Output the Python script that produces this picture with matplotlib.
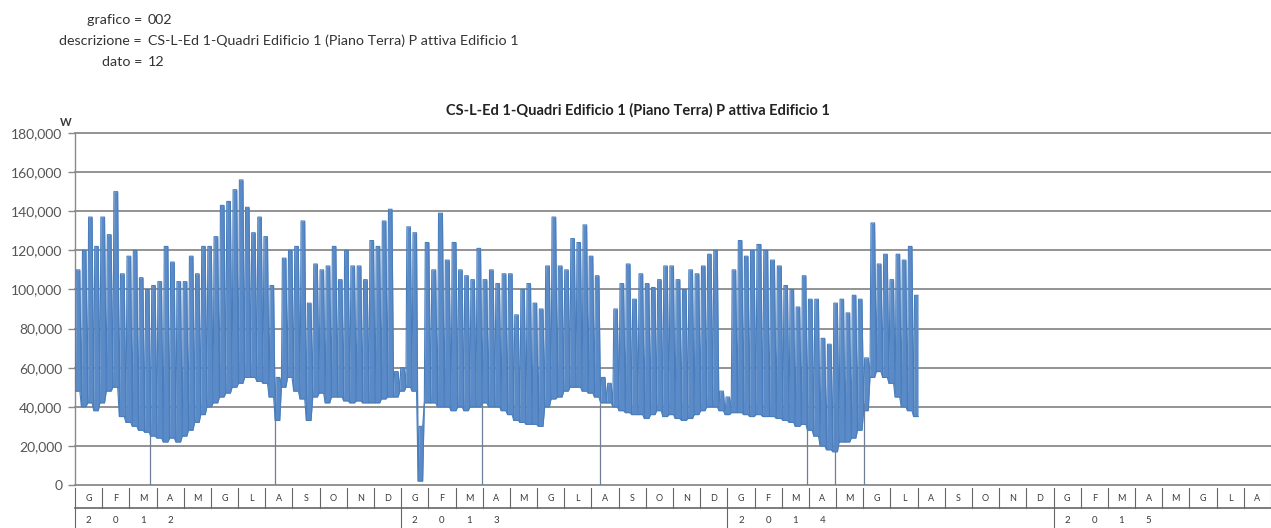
import numpy as np
import pandas as pd
import matplotlib
matplotlib.use('Agg')
import matplotlib.pyplot as plt
import matplotlib.transforms as mtransforms

plt.rcParams['font.family'] = ['Lato', 'DejaVu Sans']

# weekly peak / base power (kW), weeks from 2012-01-01
week_peak = [110, 120, 137, 122, 137, 128, 150, 108, 117, 120, 106, 100, 102, 104, 122, 114,
             104, 104, 117, 108, 122, 122, 127, 143, 145, 151, 156, 142, 129, 137, 127, 102,
             55, 116, 120, 122, 135, 93, 113, 110, 112, 122, 105, 120, 112, 112, 105, 125,
             122, 135, 141, 58, 60, 132, 129, 30, 124, 110, 139, 115, 124, 110, 107, 105,
             121, 105, 110, 103, 108, 108, 87, 100, 103, 93, 90, 112, 137, 112, 110, 126,
             124, 133, 117, 107, 55, 52, 90, 103, 113, 95, 108, 103, 101, 105, 112, 112,
             105, 100, 110, 108, 112, 118, 120, 48, 45, 110, 125, 117, 120, 123, 120, 115,
             112, 102, 100, 91, 107, 95, 95, 75, 72, 93, 95, 88, 97, 95, 65, 134,
             113, 118, 105, 118, 115, 122, 97]
week_base = [48, 40, 42, 38, 42, 48, 50, 35, 32, 30, 28, 27, 25, 24, 22, 24,
             22, 25, 28, 32, 36, 40, 42, 45, 47, 50, 52, 55, 55, 53, 52, 45,
             33, 50, 55, 48, 44, 33, 45, 47, 42, 45, 45, 43, 42, 43, 42, 42,
             42, 44, 45, 45, 48, 50, 48, 2, 42, 42, 40, 40, 38, 40, 38, 40,
             40, 42, 40, 40, 38, 36, 33, 32, 31, 31, 30, 40, 44, 45, 48, 50,
             50, 48, 47, 45, 42, 42, 40, 38, 37, 36, 36, 34, 36, 38, 35, 36,
             34, 33, 34, 36, 38, 40, 40, 38, 36, 37, 37, 36, 35, 36, 35, 35,
             34, 33, 32, 30, 31, 28, 25, 20, 18, 17, 22, 22, 24, 28, 38, 55,
             58, 55, 52, 45, 40, 38, 35]
# single zero readings (thin drops to 0)
zero_dips = ['2012-03-25', '2012-08-12', '2013-03-31', '2013-08-11',
             '2014-03-30', '2014-04-30', '2014-06-02']

months = ['G', 'F', 'M', 'A', 'M', 'G', 'L', 'A', 'S', 'O', 'N', 'D']
years = ['2012', '2013', '2014', '2015']
n_months = 44
yticks = list(range(0, 180001, 20000))

title = 'CS-L-Ed 1-Quadri Edificio 1 (Piano Terra) P attiva Edificio 1'
header = [('grafico', '002'), ('descrizione', title), ('dato', '12')]

blue = '#4a7ebb'
grid_c = '#8a8a8a'
txt_c = '#3a3a3a'


def month_pos(ts):
    ts = pd.DatetimeIndex(ts)
    return np.asarray((ts.year - 2012) * 12 + (ts.month - 1)
                      + (ts.day - 1 + ts.hour / 24) / ts.days_in_month)


start = pd.Timestamp('2012-01-01')
n = len(week_peak)
t, top, bot = [], [], []
for k in range(n):
    w0 = start + pd.Timedelta(days=7 * k)
    for d, v in [(0.4, week_base[k]), (1.5, week_peak[k]), (5.5, week_peak[k])]:
        t.append(w0 + pd.Timedelta(days=d))
        top.append(v * 1000)
        bot.append(week_base[k] * 1000)
x = month_pos(t)
top = np.array(top)
bot = np.array(bot)

fig = plt.figure(figsize=(12.71, 5.28), dpi=100)
W, H = 1271, 528
ax = fig.add_axes([75 / W, 43 / H, 1196 / W, 352 / H])

for v in yticks:
    ax.axhline(v, color=grid_c, lw=1.3, zorder=0, clip_on=False)

ax.fill_between(x, bot, top, color='#5a8bc8', lw=0, zorder=2)
ax.plot(x, top, color=blue, lw=0.8, zorder=3)
ax.plot(x, bot, color=blue, lw=0.8, zorder=3)
ax.vlines(month_pos(zero_dips), 0, 42000, color='#6f7f99', lw=0.9, zorder=2)

ax.set_xlim(0, n_months)
ax.set_ylim(0, 180000)
ax.set_xticks([])
ax.set_yticks(yticks)
ax.set_yticklabels([f'{v:,}' for v in yticks], fontsize=10, color='#555555')
ax.tick_params(axis='y', length=5, width=1, color=grid_c, pad=4)
for s in ['top', 'right', 'bottom']:
    ax.spines[s].set_visible(False)
ax.spines['left'].set_color(grid_c)
ax.spines['left'].set_linewidth(1)

# category axis: months then years
tr = mtransforms.blended_transform_factory(ax.transData, ax.transAxes)
for i in range(n_months + 1):
    ax.plot([i, i], [-0.008, -0.065], color='#666666', lw=0.8, transform=tr, clip_on=False)
for i in range(n_months):
    ax.text(i + 0.5, -0.037, months[i % 12], transform=tr, ha='center', va='center',
            fontsize=6.5, color=txt_c)
ax.plot([0, n_months], [-0.065, -0.065], color='#666666', lw=1.2, transform=tr, clip_on=False)
for j, yr in enumerate(years):
    ax.plot([12 * j, 12 * j], [-0.065, -0.13], color='#666666', lw=0.8, transform=tr, clip_on=False)
    for c, ch in enumerate(yr):
        ax.text(12 * j + c + 0.5, -0.1, ch, transform=tr, ha='center', va='center',
                fontsize=7, color=txt_c)

fig.text(66 / W, 1 - 122 / H, 'W', ha='center', va='center',
         fontsize=8, fontweight='bold', color=txt_c)
fig.text(638 / W, 1 - 110 / H, title, ha='center', va='center', fontsize=10.5,
         fontweight='bold', color='#222222')

for r, (lab, val) in enumerate(header):
    yy = 1 - (20 + 21 * r) / H
    fig.text(142 / W, yy, lab + ' =', ha='right', va='center', fontsize=10.3, color='#333333')
    fig.text(148 / W, yy, val, ha='left', va='center', fontsize=10.3, color='#333333')

fig.savefig('out.png', dpi=100)
